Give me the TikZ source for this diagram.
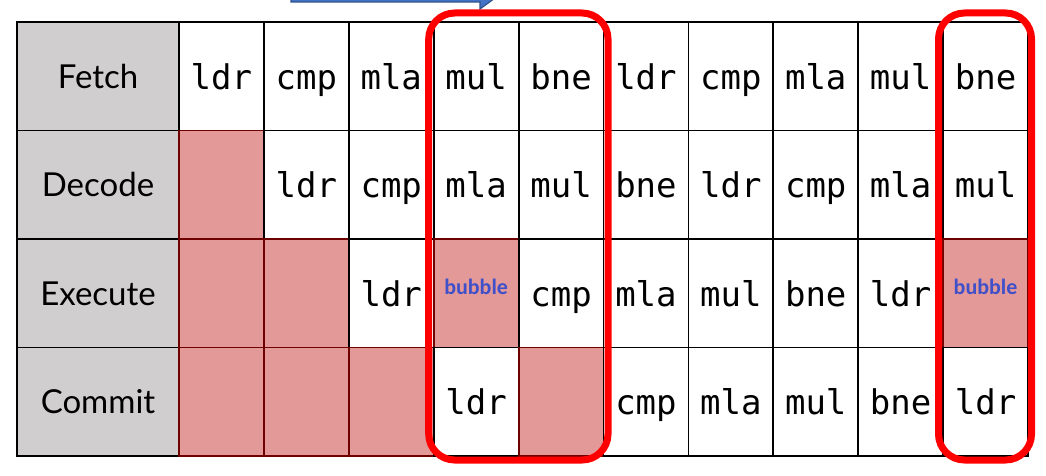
\documentclass[tikz,border=0pt]{standalone}
\usepackage{fontspec}
\setmainfont{Lato}
\newfontfamily\codefont{DejaVu Sans Mono}
\newfontfamily\bubfont{Carlito}
\usetikzlibrary{calc}

\definecolor{stagegrey}{HTML}{D0CECE}
\definecolor{stallpink}{HTML}{E49999}
\definecolor{stallline}{HTML}{6E0000}
\definecolor{bubblue}{HTML}{4050C8}
\definecolor{arrowblue}{HTML}{4472C4}
\definecolor{arrowline}{HTML}{2F528F}

\tikzset{
  op/.style={draw, line width=1.8pt, minimum width=84.9pt, minimum height=108.5pt,
    inner sep=0pt, outer sep=0pt, text height=26pt, text depth=0pt,
    font=\codefont\fontsize{34}{34}\selectfont},
  stage/.style={op, fill=stagegrey, minimum width=162pt, text height=24pt, text depth=0pt,
    font=\fontsize{33}{33}\selectfont},
  stall/.style={op, fill=stallpink, draw=stallline},
  bub/.style={stall, text=bubblue, text height=16pt, text depth=14pt,
    font=\bubfont\bfseries\fontsize{22}{22}\selectfont},
  hilite/.style={draw=red, line width=7pt, rounded corners=26pt},
}

\begin{document}
\begin{tikzpicture}[x=1pt,y=-1pt]
    \useasboundingbox (0,0) rectangle (1046,476);
    \clip (0,0) rectangle (1046,476);

    % arrow cut by the top edge
    \filldraw[fill=arrowblue, draw=arrowline, line width=1.2pt]
      (291,-40) -- (291,2) -- (480,2) -- (480,9) -- (506,-10) -- (480,-30) -- cycle;

    % stages
    \foreach \name [count=\r] in {Fetch,Decode,Execute,Commit}
      \node[stage] (s\r) at (98, {22+108.5*(\r-0.5)}) {\name};

    % slots
    \foreach \row [count=\r] in {
        {ldr/op,cmp/op,mla/op,mul/op,bne/op,ldr/op,cmp/op,mla/op,mul/op,bne/op},
        {{}/stall,ldr/op,cmp/op,mla/op,mul/op,bne/op,ldr/op,cmp/op,mla/op,mul/op},
        {{}/stall,{}/stall,ldr/op,bubble/bub,cmp/op,mla/op,mul/op,bne/op,ldr/op,bubble/bub},
        {{}/stall,{}/stall,{}/stall,ldr/op,{}/stall,cmp/op,mla/op,mul/op,bne/op,ldr/op}}
      \foreach \op/\kind [count=\c] in \row
        \node[\kind] (n\r-\c) at ({179+84.9*(\c-0.5)}, {22+108.5*(\r-0.5)}) {\op};

    % highlighted columns
    \draw[hilite] ([shift={(-5,-9)}]n1-4.north west) rectangle ([shift={(4.5,4)}]n4-5.south east);
    \draw[hilite] ([shift={(-4.6,-9)}]n1-10.north west) rectangle ([shift={(3.5,4)}]n4-10.south east);
\end{tikzpicture}
\end{document}
